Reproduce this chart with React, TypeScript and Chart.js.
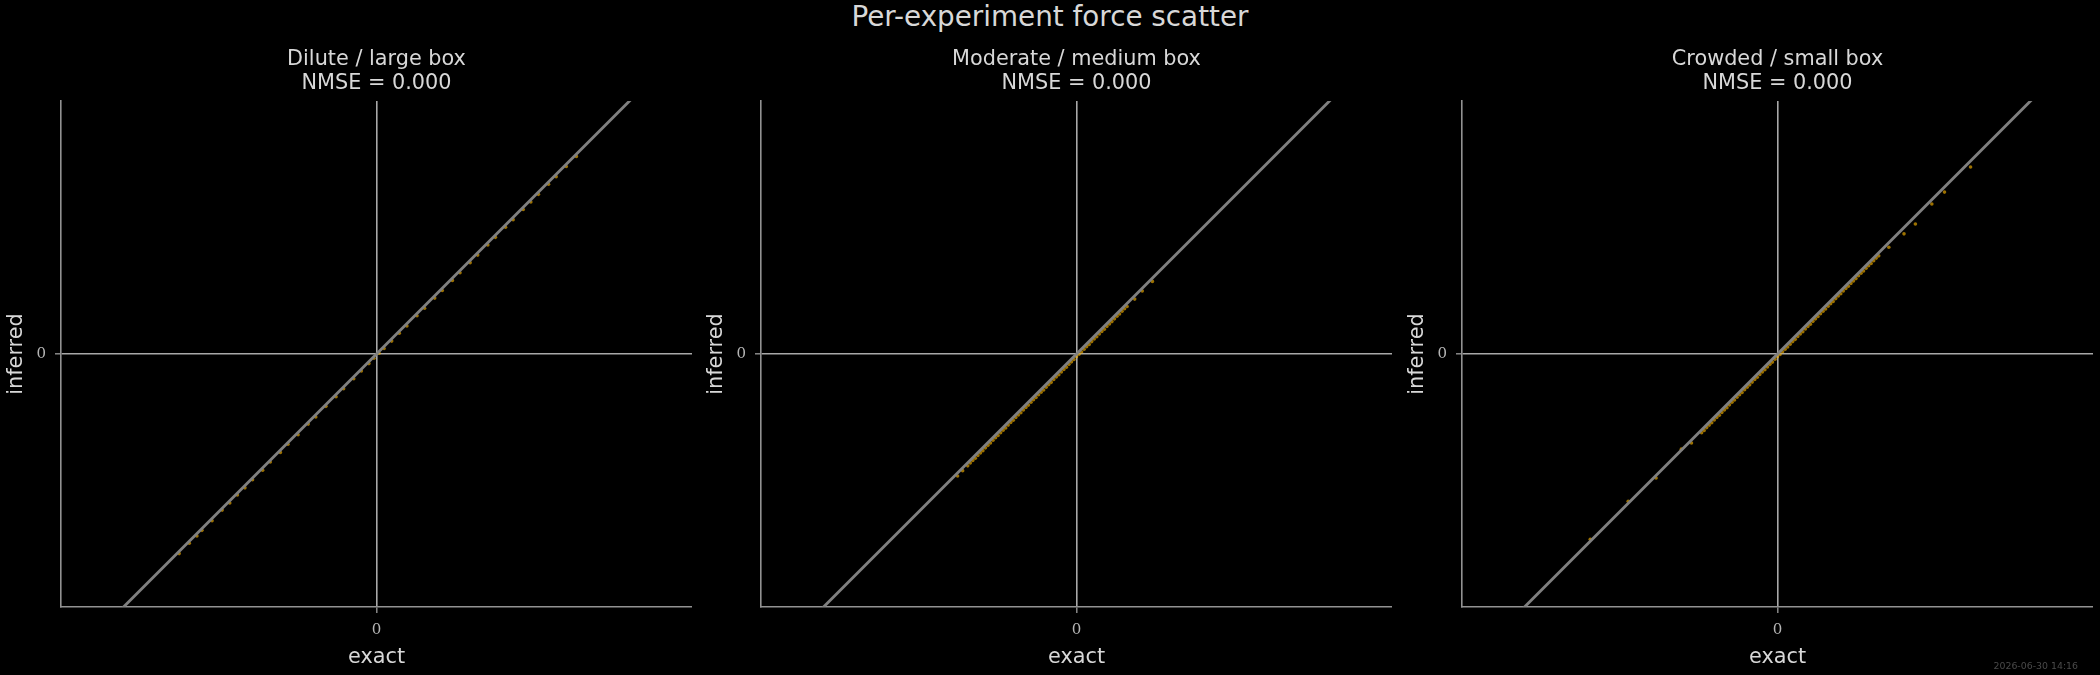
import React, { useEffect, useRef } from 'react';
import { Chart, registerables } from 'chart.js';

Chart.register(...registerables);

const suptitle = 'Per-experiment force scatter';
const timestamp = '2026-06-30 14:16';
const panelTitles = ['Dilute / large box', 'Moderate / medium box', 'Crowded / small box'];
const nmseLabels = ['NMSE = 0.000', 'NMSE = 0.000', 'NMSE = 0.000'];
const xLabel = 'exact';
const yLabel = 'inferred';
const tickValues = [0];
const tickLabels = ['0'];
const xLimits = [-1.247, 1.247];
const yLimits = [-1, 1];
const refLine = [-1.3, 1.3];

const exact1 = [
  -0.78, -0.74, -0.71, -0.69, -0.65, -0.61, -0.58, -0.55, -0.52, -0.49,
  -0.45, -0.42, -0.38, -0.35, -0.31, -0.27, -0.24, -0.2, -0.16, -0.13,
  -0.09, -0.06, -0.03, -0.01, 0.01, 0.03, 0.06, 0.09, 0.12, 0.16,
  0.19, 0.23, 0.26, 0.3, 0.33, 0.37, 0.4, 0.44, 0.47, 0.51,
  0.54, 0.58, 0.61, 0.64, 0.68, 0.71, 0.75, 0.79,
];
const inferred1 = [
  -0.789, -0.748, -0.719, -0.697, -0.659, -0.617, -0.589, -0.557, -0.529, -0.497,
  -0.459, -0.427, -0.389, -0.357, -0.319, -0.277, -0.249, -0.207, -0.169, -0.137,
  -0.098, -0.067, -0.038, -0.017, 0.003, 0.022, 0.051, 0.082, 0.111, 0.151,
  0.181, 0.221, 0.251, 0.291, 0.321, 0.361, 0.391, 0.431, 0.461, 0.501,
  0.531, 0.571, 0.601, 0.631, 0.671, 0.701, 0.741, 0.781,
];

const exact2 = [
  -0.47, -0.45, -0.43,
  -0.42, -0.41, -0.40, -0.39, -0.38, -0.37, -0.36, -0.35, -0.34, -0.33,
  -0.32, -0.31, -0.30, -0.29, -0.28, -0.27, -0.26, -0.25, -0.24, -0.23,
  -0.22, -0.21, -0.20, -0.19, -0.18, -0.17, -0.16, -0.15, -0.14, -0.13,
  -0.12, -0.11, -0.10, -0.09, -0.08, -0.07, -0.06, -0.05, -0.04, -0.03,
  -0.02, -0.01, 0.00, 0.01, 0.02, 0.03, 0.04, 0.05, 0.06, 0.07,
  0.08, 0.09, 0.10, 0.11, 0.12, 0.13, 0.14, 0.15, 0.16, 0.17,
  0.18, 0.19, 0.20,
  0.23, 0.26, 0.30,
];
const inferred2 = [
  -0.482, -0.461, -0.442, -0.431, -0.421, -0.412, -0.401, -0.391, -0.382, -0.371,
  -0.361, -0.352, -0.341, -0.331, -0.322, -0.311, -0.301, -0.292, -0.281, -0.271,
  -0.262, -0.251, -0.241, -0.232, -0.221, -0.211, -0.202, -0.191, -0.181, -0.172,
  -0.161, -0.151, -0.142, -0.131, -0.121, -0.112, -0.101, -0.091, -0.082, -0.071,
  -0.061, -0.052, -0.041, -0.031, -0.022, -0.011, -0.001, 0.008, 0.019, 0.029,
  0.038, 0.049, 0.059, 0.068, 0.079, 0.089, 0.098, 0.109, 0.119, 0.128,
  0.139, 0.149, 0.158, 0.169, 0.179, 0.188, 0.217, 0.249, 0.287,
];

const exact3 = [
  -0.74, -0.59, -0.48, -0.38, -0.34,
  -0.30, -0.29, -0.28, -0.27, -0.26, -0.25, -0.24, -0.23, -0.22, -0.21,
  -0.20, -0.19, -0.18, -0.17, -0.16, -0.15, -0.14, -0.13, -0.12, -0.11,
  -0.10, -0.09, -0.08, -0.07, -0.06, -0.05, -0.04, -0.03, -0.02, -0.01,
  0.00, 0.01, 0.02, 0.03, 0.04, 0.05, 0.06, 0.07, 0.08, 0.09,
  0.10, 0.11, 0.12, 0.13, 0.14, 0.15, 0.16, 0.17, 0.18, 0.19,
  0.20, 0.21, 0.22, 0.23, 0.24, 0.25, 0.26, 0.27, 0.28, 0.29,
  0.30, 0.31, 0.32, 0.33, 0.34, 0.35, 0.36, 0.37, 0.38, 0.39, 0.40,
  0.44, 0.50, 0.545, 0.61, 0.66, 0.763,
];
const inferred3 = [
  -0.732, -0.582, -0.49, -0.376, -0.352,
  -0.311, -0.302, -0.291, -0.281, -0.272, -0.261, -0.251, -0.242, -0.231, -0.221,
  -0.212, -0.201, -0.191, -0.182, -0.171, -0.161, -0.152, -0.141, -0.131, -0.122,
  -0.111, -0.101, -0.092, -0.081, -0.071, -0.062, -0.051, -0.041, -0.032, -0.021,
  -0.011, -0.002, 0.009, 0.019, 0.028, 0.039, 0.049, 0.058, 0.069, 0.079,
  0.088, 0.099, 0.109, 0.118, 0.129, 0.139, 0.148, 0.159, 0.169, 0.178,
  0.189, 0.199, 0.208, 0.219, 0.229, 0.238, 0.249, 0.259, 0.268, 0.279,
  0.289, 0.298, 0.309, 0.319, 0.328, 0.339, 0.349, 0.358, 0.369, 0.379, 0.388,
  0.422, 0.475, 0.514, 0.593, 0.64, 0.739,
];

const panelExact = [exact1, exact2, exact3];
const panelInferred = [inferred1, inferred2, inferred3];

const AREA_LEFT = [61, 761, 1462];
const AREA_W = 631;
const Y_AXIS_W = 61;
const TOP = 101;
const X_AXIS_H = 68;
const H = 675;

const SANS = 'DejaVu Sans';
const SERIF = 'DejaVu Serif';

function Panel({ idx }: { idx: number }) {
  const ref = useRef<HTMLCanvasElement>(null);
  useEffect(() => {
    const ex = panelExact[idx];
    const inf = panelInferred[idx];
    const n = Math.min(ex.length, inf.length);
    const pts = [] as { x: number; y: number }[];
    for (let i = 0; i < n; i++) pts.push({ x: ex[i], y: inf[i] });
    const line = refLine.map((v) => ({ x: v, y: v }));
    const tickFont = { family: SERIF, size: 15 };
    const tickCb = (v: any) => {
      const k = tickValues.indexOf(Number(v));
      return k >= 0 ? tickLabels[k] : '';
    };
    const grid = {
      color: '#a8a8a8',
      lineWidth: 1.6,
      drawTicks: true,
      tickLength: 6,
      tickColor: '#929292',
      tickWidth: 1.4,
    };
    const border = { display: true, color: '#929292', width: 1.6 };
    const chart = new Chart(ref.current as HTMLCanvasElement, {
      type: 'scatter',
      data: {
        datasets: [
          {
            data: line,
            showLine: true,
            borderColor: '#808080',
            borderWidth: 2.8,
            pointRadius: 0,
            order: 0,
            clip: 0,
          } as any,
          {
            data: pts,
            backgroundColor: 'rgba(240,174,0,0.65)',
            borderWidth: 0,
            pointRadius: 1.8,
            order: 1,
          } as any,
        ],
      },
      options: {
        responsive: false,
        animation: false,
        devicePixelRatio: 1,
        layout: { autoPadding: false, padding: { top: TOP, right: 0, bottom: 0, left: 0 } },
        plugins: { legend: { display: false }, tooltip: { enabled: false }, title: { display: false } },
        events: [],
        scales: {
          x: {
            type: 'linear',
            min: xLimits[0],
            max: xLimits[1],
            afterBuildTicks: (s: any) => {
              s.ticks = tickValues.map((v) => ({ value: v }));
            },
            afterFit: (s: any) => {
              s.height = X_AXIS_H;
            },
            ticks: {
              autoSkip: false,
              maxRotation: 0,
              padding: 8,
              color: '#b4b4b4',
              font: tickFont,
              callback: tickCb,
            },
            grid,
            border,
            title: {
              display: true,
              text: xLabel,
              color: '#d8d8d8',
              font: { family: SANS, size: 20.8 },
              padding: { top: 0, bottom: 5 },
            },
          },
          y: {
            type: 'linear',
            min: yLimits[0],
            max: yLimits[1],
            afterBuildTicks: (s: any) => {
              s.ticks = tickValues.map((v) => ({ value: v }));
            },
            afterFit: (s: any) => {
              s.width = Y_AXIS_W;
            },
            ticks: {
              autoSkip: false,
              padding: 9,
              color: '#b4b4b4',
              font: tickFont,
              callback: tickCb,
            },
            grid,
            border,
            title: {
              display: true,
              text: yLabel,
              color: '#d8d8d8',
              font: { family: SANS, size: 20.8 },
              padding: { top: 4, bottom: 0 },
            },
          },
        },
      } as any,
    });
    return () => chart.destroy();
  }, [idx]);

  const canvasLeft = AREA_LEFT[idx] - Y_AXIS_W;
  const canvasW = Y_AXIS_W + AREA_W;
  return (
    <>
      <canvas
        ref={ref}
        width={canvasW}
        height={H}
        style={{ position: 'absolute', left: canvasLeft, top: 0, width: canvasW, height: H }}
      />
      <div
        style={{
          position: 'absolute',
          left: AREA_LEFT[idx],
          width: AREA_W,
          top: 46,
          textAlign: 'center',
          fontFamily: SANS,
          fontSize: 20.8,
          lineHeight: '24px',
          color: '#d8d8d8',
          whiteSpace: 'pre',
        }}
      >
        <div>{panelTitles[idx]}</div>
        <div>{nmseLabels[idx]}</div>
      </div>
    </>
  );
}

export default function App() {
  return (
    <div
      style={{
        position: 'fixed',
        left: 0,
        top: 0,
        width: 2100,
        height: 675,
        background: '#000000',
        overflow: 'hidden',
      }}
    >
      <div
        style={{
          position: 'absolute',
          left: 0,
          top: 0,
          width: 2100,
          textAlign: 'center',
          fontFamily: SANS,
          fontSize: 27.8,
          lineHeight: '34px',
          color: '#d8d8d8',
        }}
      >
        {suptitle}
      </div>
      <Panel idx={0} />
      <Panel idx={1} />
      <Panel idx={2} />
      <div
        style={{
          position: 'absolute',
          right: 22,
          top: 660,
          fontFamily: SANS,
          fontSize: 9.4,
          lineHeight: '12px',
          color: '#4a4a4a',
          whiteSpace: 'pre',
        }}
      >
        {timestamp}
      </div>
    </div>
  );
}
